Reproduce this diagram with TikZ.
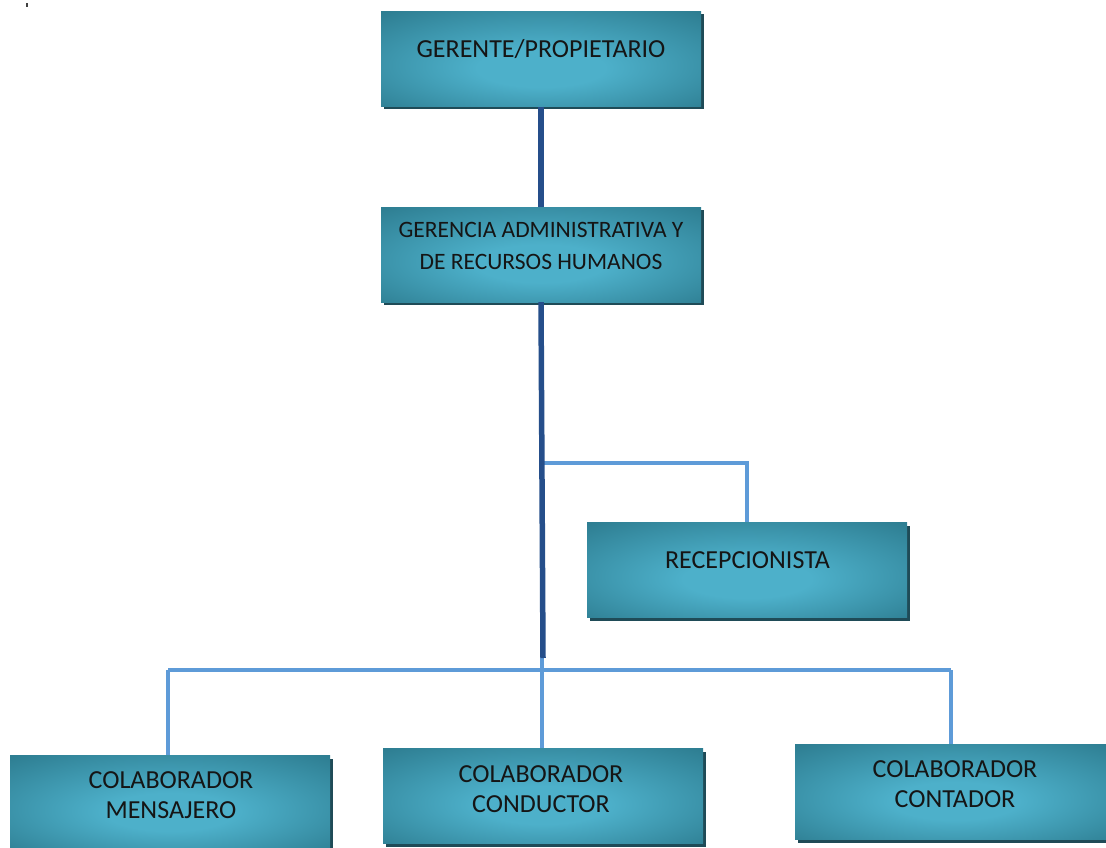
\documentclass[tikz,border=0pt]{standalone}
\usepackage{fontspec}
\setmainfont{Carlito}
\usetikzlibrary{shadows}

\definecolor{boxlight}{HTML}{4DB0CA}
\definecolor{boxdark}{HTML}{2E7E92}
\definecolor{boxshadow}{HTML}{1F4B57}
\definecolor{mainline}{HTML}{254E8A}
\definecolor{subline}{HTML}{5E9BD8}
\definecolor{labelink}{HTML}{151515}

% soft glow in the middle of every box, fading to teal at the edges
\pgfdeclareradialshading{boxshade}{\pgfpoint{0bp}{-6bp}}{%
  color(0bp)=(boxlight); color(10bp)=(boxlight);
  color(36bp)=(boxdark); color(50bp)=(boxdark)}

\tikzset{
  orgbox/.style={draw=none, shading=boxshade, minimum width=320pt,
    minimum height=95pt, inner sep=0pt,
    drop shadow={shadow xshift=3pt, shadow yshift=-3pt, fill=boxshadow, opacity=1}},
  boxlabel/.style={text=labelink, align=center, inner sep=0pt,
    font=\fontsize{26}{30}\selectfont},
  smalllabel/.style={boxlabel, font=\fontsize{23.5}{32}\selectfont},
  mainlink/.style={draw=mainline, line width=5.5pt},
  sublink/.style={draw=subline, line width=3.5pt},
}

\begin{document}
\begin{tikzpicture}[x=1pt, y=-1pt]
  \useasboundingbox (0,0) rectangle (1106,848);

  % stray mark in the upper left corner
  \fill[black!75] (26,3) rectangle (27.5,7);

  % boxes
  \node[orgbox] (gerente) at (541,59) {};
  \node[orgbox] (gerencia) at (541,254.5) {};
  \node[orgbox] (recep) at (747,570) {};
  \node[orgbox] (mensajero) at (170,803) {};
  \node[orgbox] (conductor) at (543,796) {};
  \node[orgbox] (contador) at (955,792) {};

  % branch points
  \coordinate (rjoin) at (541,463);
  \coordinate (hub) at (543,658);
  \coordinate (busL) at (168,670);
  \coordinate (busM) at (542,670);
  \coordinate (busR) at (951,670);
  \coordinate (subtop) at (542,650);

  % light connectors to the subordinate posts
  \draw[sublink] (rjoin) -| (recep.north);
  \draw[sublink] (busL) -- (busR);
  \draw[sublink] (busL) -- (busL |- mensajero.north);
  \draw[sublink] (subtop) -- (busM |- conductor.north);
  \draw[sublink] (busR) -- (busR |- contador.north);

  % main chain of command
  \draw[mainlink] (gerente.south) -- (gerencia.north);
  \draw[mainlink] (gerencia.south) -- (hub);

  % labels
  \node[boxlabel] (tgerente) at (541,49) {GERENTE/PROPIETARIO};
  \node[smalllabel] (tgerencia) at (541,246) {GERENCIA ADMINISTRATIVA Y\\DE RECURSOS HUMANOS};
  \node[boxlabel] (trecep) at (747.5,560.5) {RECEPCIONISTA};
  \node[boxlabel] (tmensajero) at (171,795) {COLABORADOR\\MENSAJERO};
  \node[boxlabel] (tconductor) at (541,789) {COLABORADOR\\CONDUCTOR};
  \node[boxlabel] (tcontador) at (955,784) {COLABORADOR\\CONTADOR};
\end{tikzpicture}
\end{document}
